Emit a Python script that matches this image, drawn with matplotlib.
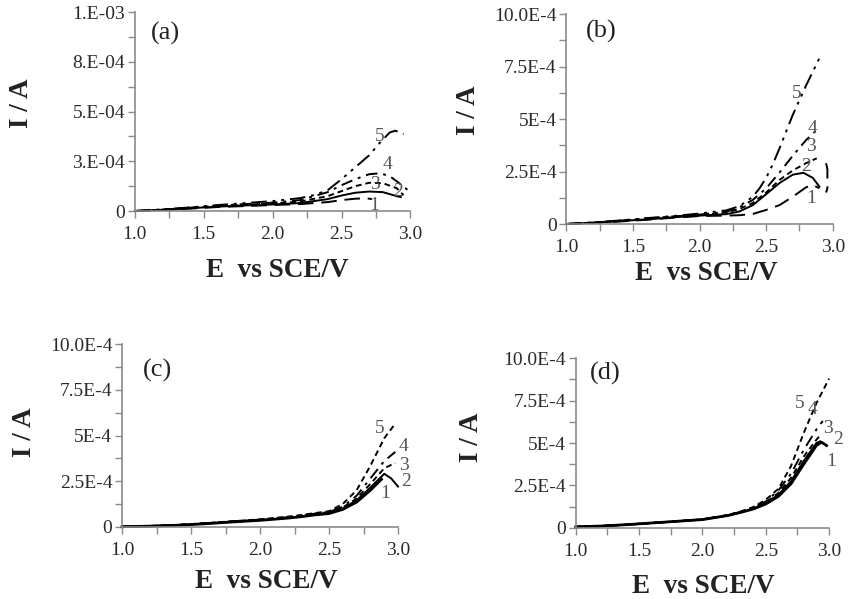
import matplotlib
matplotlib.use("Agg")
import matplotlib.pyplot as plt

serif = ["Liberation Serif", "DejaVu Serif"]
tickfont = 14
labelfont = 19.5
axcolor = "#8a8a8a"
txtcolor = "#2a2a2a"

# currents in units of 1E-4 A, potentials in V vs SCE
# panel (a)
a1_E = [1.0, 1.2, 1.4, 1.6, 1.8, 2.0, 2.2, 2.4, 2.5, 2.6, 2.68, 2.72]
a1_I = [0, 0.05, 0.12, 0.2, 0.25, 0.3, 0.35, 0.45, 0.55, 0.62, 0.64, 0.6]
a2_E = [1.0, 1.2, 1.4, 1.6, 1.8, 2.0, 2.2, 2.4, 2.5, 2.6, 2.7, 2.8, 2.9, 2.93]
a2_I = [0, 0.06, 0.14, 0.22, 0.28, 0.33, 0.4, 0.6, 0.78, 0.92, 0.98, 0.95, 0.75, 0.7]
a3_E = [1.0, 1.2, 1.4, 1.6, 1.8, 2.0, 2.2, 2.4, 2.5, 2.6, 2.7, 2.8, 2.9, 2.95]
a3_I = [0, 0.07, 0.16, 0.25, 0.32, 0.38, 0.48, 0.75, 1.0, 1.25, 1.42, 1.4, 1.15, 0.8]
a4_E = [1.0, 1.2, 1.4, 1.6, 1.8, 2.0, 2.2, 2.4, 2.5, 2.6, 2.7, 2.78, 2.85, 2.9, 2.98]
a4_I = [0, 0.07, 0.17, 0.27, 0.35, 0.42, 0.55, 0.95, 1.3, 1.6, 1.85, 1.9, 1.75, 1.5, 1.06]
a5_E = [1.0, 1.2, 1.4, 1.6, 1.8, 2.0, 2.2, 2.3, 2.4, 2.5, 2.6, 2.7, 2.78, 2.85, 2.89, 2.95]
a5_I = [0, 0.08, 0.18, 0.3, 0.4, 0.5, 0.65, 0.8, 1.05, 1.6, 2.2, 2.8, 3.45, 3.95, 4.04, 3.87]

# panel (b)
b1_E = [1.0, 1.2, 1.4, 1.6, 1.8, 2.0, 2.2, 2.3, 2.4, 2.5, 2.6, 2.7, 2.8, 2.85, 2.9]
b1_I = [0, 0.05, 0.12, 0.2, 0.3, 0.38, 0.4, 0.42, 0.48, 0.67, 0.9, 1.3, 1.75, 1.86, 1.7]
b1x_E = [2.95, 2.96, 2.96, 2.95]
b1x_I = [2.9, 2.6, 1.7, 1.5]
b2_E = [1.0, 1.2, 1.4, 1.6, 1.8, 2.0, 2.2, 2.3, 2.4, 2.5, 2.6, 2.7, 2.78, 2.85, 2.9]
b2_I = [0, 0.06, 0.14, 0.22, 0.32, 0.4, 0.47, 0.6, 0.9, 1.42, 1.95, 2.35, 2.44, 2.2, 1.78]
b3_E = [1.0, 1.2, 1.4, 1.6, 1.8, 2.0, 2.2, 2.3, 2.4, 2.5, 2.6, 2.7, 2.8, 2.88]
b3_I = [0, 0.07, 0.15, 0.24, 0.34, 0.42, 0.55, 0.72, 1.0, 1.5, 2.1, 2.55, 2.9, 3.13]
b4_E = [1.0, 1.2, 1.4, 1.6, 1.8, 2.0, 2.2, 2.3, 2.4, 2.5, 2.6, 2.7, 2.8, 2.88]
b4_I = [0, 0.07, 0.16, 0.26, 0.36, 0.45, 0.58, 0.8, 1.15, 1.7, 2.45, 3.25, 4.0, 4.48]
b5_E = [1.0, 1.2, 1.4, 1.6, 1.8, 2.0, 2.2, 2.3, 2.4, 2.45, 2.5, 2.55, 2.6, 2.7, 2.8, 2.9]
b5_I = [0, 0.08, 0.17, 0.28, 0.38, 0.5, 0.65, 0.85, 1.3, 1.7, 2.2, 2.85, 3.6, 5.2, 6.6, 7.9]

# panel (c)
c1_E = [1.0, 1.2, 1.4, 1.6, 1.8, 2.0, 2.2, 2.3, 2.4, 2.5, 2.6, 2.7, 2.8, 2.88]
c1_I = [0, 0.03, 0.08, 0.16, 0.26, 0.35, 0.47, 0.55, 0.65, 0.72, 0.95, 1.35, 2.0, 2.6]
c2_E = [1.0, 1.2, 1.4, 1.6, 1.8, 2.0, 2.2, 2.3, 2.4, 2.5, 2.6, 2.7, 2.8, 2.9, 2.95, 3.0]
c2_I = [0, 0.03, 0.08, 0.17, 0.27, 0.36, 0.48, 0.57, 0.66, 0.75, 1.0, 1.45, 2.15, 2.9, 2.65, 2.2]
c3_E = [1.0, 1.2, 1.4, 1.6, 1.8, 2.0, 2.2, 2.3, 2.4, 2.5, 2.6, 2.7, 2.8, 2.9, 2.98]
c3_I = [0, 0.03, 0.09, 0.18, 0.28, 0.38, 0.5, 0.6, 0.7, 0.78, 1.05, 1.55, 2.35, 3.2, 3.5]
c4_E = [1.0, 1.2, 1.4, 1.6, 1.8, 2.0, 2.2, 2.3, 2.4, 2.5, 2.6, 2.7, 2.8, 2.9, 2.98]
c4_I = [0, 0.03, 0.09, 0.18, 0.29, 0.39, 0.52, 0.62, 0.72, 0.8, 1.1, 1.7, 2.65, 3.6, 4.1]
c5_E = [1.0, 1.2, 1.4, 1.6, 1.8, 2.0, 2.2, 2.3, 2.4, 2.5, 2.6, 2.7, 2.8, 2.9, 2.98]
c5_I = [0, 0.04, 0.1, 0.19, 0.3, 0.4, 0.55, 0.64, 0.75, 0.85, 1.25, 2.0, 3.35, 4.85, 5.65]

# panel (d)
d1_E = [1.0, 1.2, 1.4, 1.6, 1.8, 2.0, 2.2, 2.3, 2.4, 2.5, 2.6, 2.7, 2.8, 2.9, 2.94, 2.98]
d1_I = [0.05, 0.1, 0.18, 0.28, 0.38, 0.48, 0.72, 0.9, 1.1, 1.4, 1.85, 2.6, 3.75, 4.85, 5.05, 4.85]
d2_E = [1.0, 1.2, 1.4, 1.6, 1.8, 2.0, 2.2, 2.3, 2.4, 2.5, 2.6, 2.7, 2.8, 2.9, 2.93]
d2_I = [0.05, 0.1, 0.18, 0.28, 0.38, 0.48, 0.72, 0.9, 1.12, 1.45, 1.95, 2.75, 3.95, 5.0, 5.1]
d3_E = [1.0, 1.2, 1.4, 1.6, 1.8, 2.0, 2.2, 2.3, 2.4, 2.5, 2.6, 2.7, 2.8, 2.9, 2.93]
d3_I = [0.05, 0.1, 0.18, 0.28, 0.38, 0.49, 0.73, 0.92, 1.15, 1.5, 2.05, 2.95, 4.2, 5.2, 5.45]
d4_E = [1.0, 1.2, 1.4, 1.6, 1.8, 2.0, 2.2, 2.3, 2.4, 2.5, 2.6, 2.7, 2.8, 2.9, 2.95]
d4_I = [0.05, 0.1, 0.18, 0.28, 0.38, 0.49, 0.74, 0.93, 1.18, 1.55, 2.2, 3.2, 4.6, 5.8, 6.3]
d5_E = [1.0, 1.2, 1.4, 1.6, 1.8, 2.0, 2.2, 2.3, 2.4, 2.5, 2.6, 2.7, 2.8, 2.9, 3.0]
d5_I = [0.05, 0.1, 0.18, 0.28, 0.38, 0.5, 0.75, 0.95, 1.22, 1.65, 2.3, 3.65, 5.6, 7.35, 8.8]

# tick labels
yticks = [0, 2.5e-4, 5e-4, 7.5e-4, 1e-3]
ylabels_a = ["0", "3.E-04", "5.E-04", "8.E-04", "1.E-03"]
ylabels_bcd = ["0", "2.5E-4", "5E-4", "7.5E-4", "10.0E-4"]
xticks = [1.0, 1.5, 2.0, 2.5, 3.0]
xlabels = ["1.0", "1.5", "2.0", "2.5", "3.0"]

# curve label positions (E, I in 1E-4)
a_lab = [(2.74, 0.3), (2.91, 0.96), (2.74, 1.31), (2.83, 2.32), (2.78, 3.75)]
b_lab = [(2.84, 1.22), (2.80, 2.73), (2.84, 3.68), (2.85, 4.56), (2.73, 6.22)]
c_lab = [(2.91, 1.83), (3.06, 2.47), (3.04, 3.38), (3.04, 4.39), (2.87, 5.39)]
d_lab = [(3.02, 3.9), (3.07, 5.18), (2.99, 5.87), (2.87, 6.95), (2.77, 7.34)]

long_dash = (0, (8, 4))
short_dash = (0, (3, 2))
dash_dot = (0, (6, 3, 1.5, 3))
dash_dot_dot = (0, (8, 3, 1.5, 3, 1.5, 3))


def setup(ax, ylabels, ylab_pos, xlab_pos, tag, tag_pos):
    ax.set_xlim(1.0, 3.0)
    ax.set_ylim(0, 1e-3)
    for s in ["top", "right"]:
        ax.spines[s].set_visible(False)
    for s in ["left", "bottom"]:
        ax.spines[s].set_color(axcolor)
        ax.spines[s].set_linewidth(1.2)
    ax.set_xticks(xticks)
    ax.set_xticklabels(xlabels, family=serif, fontsize=tickfont, color=txtcolor)
    ax.set_yticks(yticks)
    ax.set_yticklabels(ylabels, family=serif, fontsize=tickfont, color=txtcolor)
    ax.set_xticks([1.25, 1.75, 2.25, 2.75], minor=True)
    ax.set_yticks([1.25e-4, 3.75e-4, 6.25e-4, 8.75e-4], minor=True)
    ax.tick_params(which="both", direction="out", length=5, width=1,
                   color=axcolor, pad=2)
    ax.tick_params(axis="x", pad=6)
    ax.text(ylab_pos[0], ylab_pos[1], "I / A", transform=ax.transAxes,
            rotation=90, ha="center", va="center", family=serif,
            fontsize=labelfont, fontweight="bold", color="#222222")
    ax.text(xlab_pos[0], xlab_pos[1], "E  vs SCE/V", transform=ax.transAxes,
            ha="center", va="center", family=serif,
            fontsize=labelfont, fontweight="bold", color="#222222")
    ax.text(tag_pos[0], tag_pos[1] * 1e-4, tag, ha="center", va="center",
            family=serif, fontsize=19, color="#222222")


def curves(ax, data, styles, widths, labels):
    for (E, I), ls, lw in zip(data, styles, widths):
        ax.plot(E, [v * 1e-4 for v in I], color="black", linestyle=ls,
                linewidth=lw, clip_on=False)
    for i, (x, y) in enumerate(labels):
        ax.text(x, y * 1e-4, str(i + 1), ha="center", va="center",
                family=serif, fontsize=14, color="#555555", clip_on=False)


fig = plt.figure(figsize=(8.48, 5.99), dpi=100)

ax_a = fig.add_axes([0.159, 0.6477, 0.325, 0.332])
ax_b = fig.add_axes([0.668, 0.626, 0.314, 0.3506])
ax_c = fig.add_axes([0.1439, 0.1207, 0.3255, 0.3045])
ax_d = fig.add_axes([0.679, 0.119, 0.2987, 0.2828])

styles_ab = [long_dash, "-", short_dash, dash_dot, dash_dot_dot]
styles_cd = ["-", "-", short_dash, dash_dot, short_dash]

curves(ax_a, [(a1_E, a1_I), (a2_E, a2_I), (a3_E, a3_I), (a4_E, a4_I), (a5_E, a5_I)],
       styles_ab, [1.4] * 5, a_lab)
setup(ax_a, ylabels_a, (-0.41, 0.54), (0.515, -0.30), "(a)", (1.22, 8.94))

curves(ax_b, [(b1_E, b1_I), (b2_E, b2_I), (b3_E, b3_I), (b4_E, b4_I), (b5_E, b5_I)],
       styles_ab, [1.4] * 5, b_lab)
ax_b.plot(b1x_E, [v * 1e-4 for v in b1x_I], color="black", linestyle=long_dash,
          linewidth=1.4, clip_on=False)
setup(ax_b, ylabels_bcd, (-0.367, 0.543), (0.526, -0.235), "(b)", (1.26, 9.16))

curves(ax_c, [(c1_E, c1_I), (c2_E, c2_I), (c3_E, c3_I), (c4_E, c4_I), (c5_E, c5_I)],
       styles_cd, [2.0, 1.4, 1.4, 1.4, 1.4], c_lab)
setup(ax_c, ylabels_bcd, (-0.355, 0.52), (0.524, -0.30), "(c)", (1.26, 8.59))

curves(ax_d, [(d1_E, d1_I), (d2_E, d2_I), (d3_E, d3_I), (d4_E, d4_I), (d5_E, d5_I)],
       styles_cd, [2.0, 1.4, 1.4, 1.4, 1.4], d_lab)
setup(ax_d, ylabels_bcd, (-0.41, 0.537), (0.503, -0.348), "(d)", (1.23, 9.11))

fig.savefig("out.png", dpi=100)
